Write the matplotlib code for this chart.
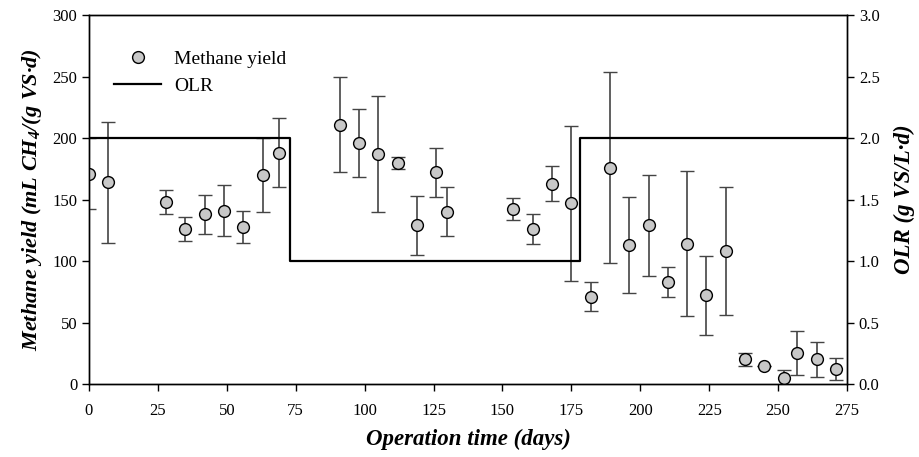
import numpy as np
import matplotlib.pyplot as plt
from matplotlib.lines import Line2D

plt.rcParams['font.family'] = ['Liberation Serif', 'DejaVu Serif']
plt.rcParams['mathtext.fontset'] = 'custom'
plt.rcParams['mathtext.rm'] = 'Liberation Serif:italic:bold'
plt.rcParams['mathtext.it'] = 'Liberation Serif:italic:bold'
plt.rcParams['mathtext.bf'] = 'Liberation Serif:italic:bold'

# methane yield (mean +/- sd) over operation time
days = [0, 7, 28, 35, 42, 49, 56, 63, 69, 91, 98, 105, 112, 119, 126, 130,
        154, 161, 168, 175, 182, 189, 196, 203, 210, 217, 224, 231, 238, 245,
        252, 257, 264, 271]
yield_mean = [171, 164, 148, 126, 138, 141, 128, 170, 188, 211, 196, 187, 180,
              129, 172, 140, 142, 126, 163, 147, 71, 176, 113, 129, 83, 114,
              72, 108, 20, 15, 5, 25, 20, 12]
yield_sd = [29, 49, 10, 10, 16, 21, 13, 30, 28, 39, 28, 47, 5, 24, 20, 20, 9,
            12, 14, 63, 12, 78, 39, 41, 12, 59, 32, 52, 5, 0, 6, 18, 14, 9]

# organic loading rate steps
olr_days = [0, 73, 73, 178, 178, 275]
olr = [2.0, 2.0, 1.0, 1.0, 2.0, 2.0]

fig = plt.figure(figsize=(9.2, 4.57), dpi=100)
ax = fig.add_axes([0.0967, 0.1597, 0.824, 0.8073])
ax2 = ax.twinx()

ax.errorbar(days, yield_mean, yerr=yield_sd, fmt='o', color='#c8c8c8',
            mec='black', mew=1.0, ms=8.5, ecolor='#444444', elinewidth=1.2,
            capsize=5, capthick=1.2, zorder=3)
ax2.plot(olr_days, olr, color='black', lw=1.6)

ax.set_xlim(0, 275)
ax.set_ylim(0, 300)
ax2.set_ylim(0, 3.0)
ax.set_xticks(np.arange(0, 276, 25))
ax.set_yticks(np.arange(0, 301, 50))
ax2.set_yticks(np.arange(0, 3.01, 0.5))
ax2.set_yticklabels([f'{v:.1f}' for v in np.arange(0, 3.01, 0.5)])

for a in (ax, ax2):
    a.tick_params(direction='out', length=5, width=1, labelsize=12)
    for s in a.spines.values():
        s.set_linewidth(1.0)
ax.tick_params(axis='x', pad=9)

ax.set_xlabel('Operation time (days)', fontsize=16.5, fontweight='bold',
              style='italic', labelpad=7)
ax.set_ylabel('Methane yield (mL CH$_4$/(g VS·d)', fontsize=16,
              fontweight='bold', style='italic', labelpad=6)
ax2.set_ylabel('OLR (g VS/L·d)', fontsize=16.5, fontweight='bold',
               style='italic', labelpad=10)

handles = [Line2D([], [], ls='none', marker='o', ms=8.5, color='#c8c8c8',
                  mec='black', mew=1.0),
           Line2D([], [], color='black', lw=1.6)]
ax.legend(handles, ['Methane yield', 'OLR'], loc='upper left',
          bbox_to_anchor=(0.023, 0.925), frameon=False, fontsize=14,
          handlelength=2.4, handletextpad=0.7, labelspacing=0.45,
          borderaxespad=0)

fig.savefig('out.png', dpi=100)
